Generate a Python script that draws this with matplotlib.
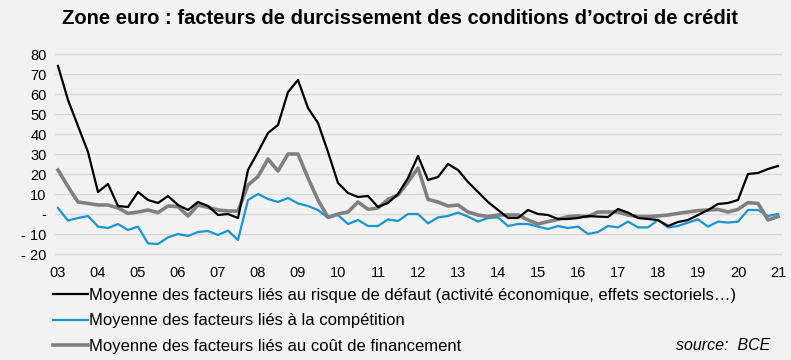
import numpy as np
import matplotlib
matplotlib.use("Agg")
import matplotlib.pyplot as plt
from matplotlib.ticker import FuncFormatter

plt.rcParams['font.family'] = ['Liberation Sans', 'DejaVu Sans']

# quarterly, 2003Q1 .. 2021Q1
start_year = 2003
risque = [74, 57, 44, 31, 11, 15, 4, 3.5, 11, 7, 5.5, 9, 4.5, 2, 6, 4, -0.5, 0, -2,
          22, 31, 40.5, 44.5, 61, 67, 53, 45.5, 31, 15.5, 10.5, 8.5, 9, 3.5, 5.5, 10,
          18, 29, 17, 18.5, 25, 22, 16, 11, 6, 2, -2, -2, 2, 0, -0.5, -2.5, -2.5, -2,
          -1, -1.3, -1.5, 2.5, 0.7, -2, -2.5, -3, -6, -4, -3, -0.5, 2, 5, 5.5, 7,
          20, 20.5, 22.5, 24]
competition = [3, -3.3, -2, -1, -6.3, -7, -5, -8, -6.3, -14.7, -15, -11.7, -10, -11,
               -9, -8.5, -10.5, -8.3, -13, 7, 10, 7.5, 6, 8, 5.3, 4, 2, -2, -0.5, -5,
               -3, -6, -6, -2.7, -3.5, 0, 0, -4.7, -1.7, -1, 0.7, -1.3, -3.8, -2, -1.7,
               -6, -5, -5, -6.3, -7.5, -6, -7, -6.3, -10, -9, -6, -6.7, -3.8, -6.7,
               -6.7, -3, -6.7, -6, -4.3, -2.7, -6.3, -3.8, -4.3, -3.8, 2, 2, -1, 0]
financement = [22, 13.7, 6, 5.3, 4.5, 4.5, 3, 0.3, 1, 2, 0.7, 4, 3.7, -1, 4.5, 3.3, 2,
               1.5, 1.5, 14.5, 18.7, 27.5, 21.5, 30, 30, 18, 7, -1.7, 0, 1, 6, 2.3, 3,
               7.3, 9.5, 16, 23, 7.3, 6, 4, 4.5, 1, -0.5, -1.3, -0.5, -0.5, -0.5, -3,
               -5, -3.8, -2.7, -1.3, -1, -1.3, 1, 1, 1, -0.5, -1.3, -1.3, -1, -0.5,
               0.3, 1, 1.7, 2, 2.3, 1, 2.3, 5.7, 5.3, -3, -1.3]

labels = ["Moyenne des facteurs liés au risque de défaut (activité économique, effets sectoriels…)",
          "Moyenne des facteurs liés à la compétition",
          "Moyenne des facteurs liés au coût de financement"]
years = list(range(2003, 2022))
yticks = [-20, -10, 0, 10, 20, 30, 40, 50, 60, 70, 80]

t = start_year + np.arange(len(risque)) / 4.0

bg = '#f2f2f2'
fig = plt.figure(figsize=(7.91, 3.6), dpi=100, facecolor=bg)
ax = fig.add_axes([55 / 791, 1 - 256 / 360, 727 / 791, 204 / 360], facecolor=bg)

l1, = ax.plot(t, risque, color='black', lw=1.6, zorder=4)
l2, = ax.plot(t, competition, color='#1b95d2', lw=1.6, zorder=2)
l3, = ax.plot(t, financement, color='#808080', lw=2.6, zorder=3)

ax.set_xlim(2003 - 3 / 40, 2021 + 4 / 40)
ax.set_ylim(-21, 81)
ax.set_yticks(yticks)
ax.set_xticks(years)
ax.set_xticklabels(['%02d' % (y % 100) for y in years])


def fmt(v, pos):
    if v == 0:
        return '-'
    if v < 0:
        return '- %d' % abs(v)
    return '%d' % v


ax.yaxis.set_major_formatter(FuncFormatter(fmt))
ax.tick_params(length=0, labelsize=10.5, colors='black')
ax.tick_params(axis='y', pad=6)
ax.tick_params(axis='x', pad=7)
ax.grid(axis='y', color='#d9d9d9', lw=1)
ax.set_axisbelow(True)
for s in ax.spines.values():
    s.set_visible(False)

fig.text(0.505, 1 - 18 / 360,
         "Zone euro : facteurs de durcissement des conditions d’octroi de crédit",
         ha='center', va='center', fontsize=14.5, fontweight='bold')

fig.legend([l1, l2, l3], labels, loc='upper left',
           bbox_to_anchor=(53 / 791, 1 - 288 / 360), frameon=False,
           handlelength=2.1, handletextpad=0.05,
           labelspacing=0.63, borderpad=0, borderaxespad=0,
           fontsize=12)

fig.text(770 / 791, 1 - 345 / 360, 'source:  BCE', ha='right', va='center',
         fontsize=11.5, style='italic')

fig.savefig('out.png', dpi=100, facecolor=bg)
